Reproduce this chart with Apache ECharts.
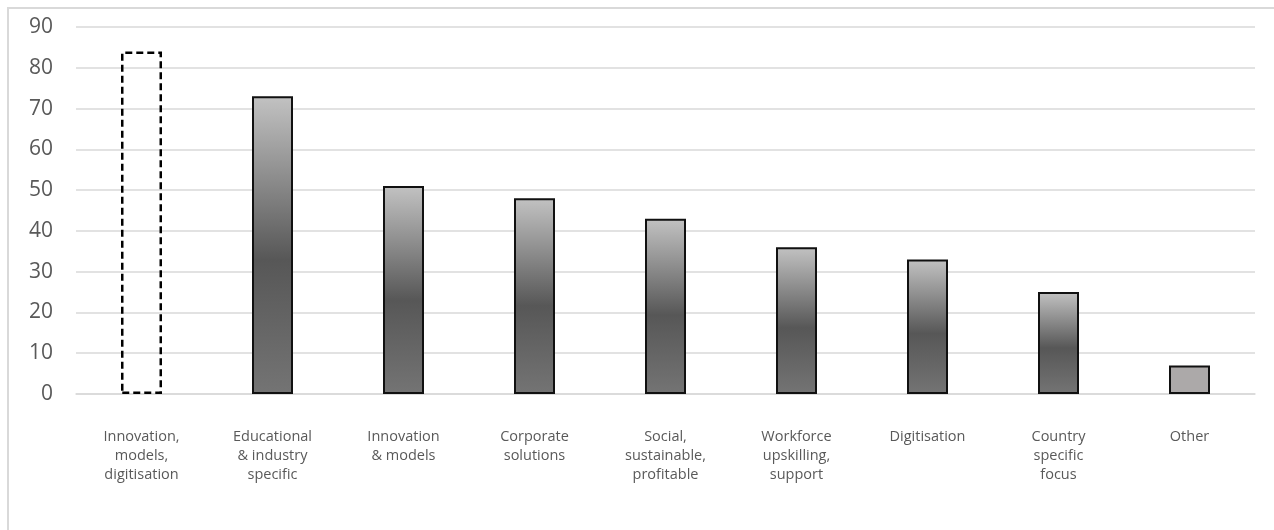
<!DOCTYPE html>
<html>
<head>
<meta charset="utf-8">
<script src="https://cdn.jsdelivr.net/npm/echarts@6/dist/echarts.min.js"></script>
<style>
  html, body { margin: 0; padding: 0; background: #fff; }
  #chart { width: 1274px; height: 530px; }
</style>
</head>
<body>
<div id="chart"></div>
<script>
// categories and counts
const categories = [
    'Innovation,\nmodels,\ndigitisation',
    'Educational\n& industry\nspecific',
    'Innovation\n& models',
    'Corporate\nsolutions',
    'Social,\nsustainable,\nprofitable',
    'Workforce\nupskilling,\nsupport',
    'Digitisation',
    'Country\nspecific\nfocus',
    'Other'
];
const counts = [84, 73, 51, 48, 43, 36, 33, 25, 7];
const yTicks = [0, 10, 20, 30, 40, 50, 60, 70, 80, 90];

const greyGradient = new echarts.graphic.LinearGradient(0, 0, 0, 1, [
    {offset: 0, color: '#c2c2c2'},
    {offset: 0.55, color: '#575757'},
    {offset: 1, color: '#747474'}
]);

const barData = counts.map((v, i) => {
    if (i === 0) {
        // the total bar is only an outline
        return {
            value: v,
            itemStyle: {color: 'transparent', borderColor: '#000', borderWidth: 2.5, borderType: [7, 4]}
        };
    }
    if (i === counts.length - 1) {
        return {value: v, itemStyle: {color: '#aca9a9', borderColor: '#111', borderWidth: 2}};
    }
    return {value: v, itemStyle: {color: greyGradient, borderColor: '#111', borderWidth: 2}};
});

const myChart = echarts.init(document.getElementById('chart'));
myChart.setOption({
    animation: false,
    graphic: [{
        type: 'rect',
        shape: {x: 8, y: 8, width: 1400, height: 700},
        style: {fill: 'none', stroke: '#d9d9d9', lineWidth: 2},
        silent: true,
        z: -1
    }],
    grid: {left: 76, right: 19, top: 27, bottom: 136, containLabel: false},
    xAxis: {
        type: 'category',
        data: categories,
        axisTick: {show: false},
        axisLine: {lineStyle: {color: '#d9d9d9', width: 1.5}},
        axisLabel: {
            interval: 0,
            margin: 33,
            fontFamily: 'Open Sans',
            fontSize: 14.5,
            lineHeight: 19,
            color: '#595959'
        }
    },
    yAxis: {
        type: 'value',
        min: yTicks[0],
        max: yTicks[yTicks.length - 1],
        interval: 10,
        axisLine: {show: false},
        axisTick: {show: false},
        axisLabel: {margin: 23, fontFamily: 'Open Sans', fontSize: 21, color: '#595959'},
        splitLine: {lineStyle: {color: '#d9d9d9', width: 1.5}}
    },
    series: [{
        name: 'Count',
        type: 'bar',
        data: barData,
        barWidth: 41
    }]
});
</script>
</body>
</html>
